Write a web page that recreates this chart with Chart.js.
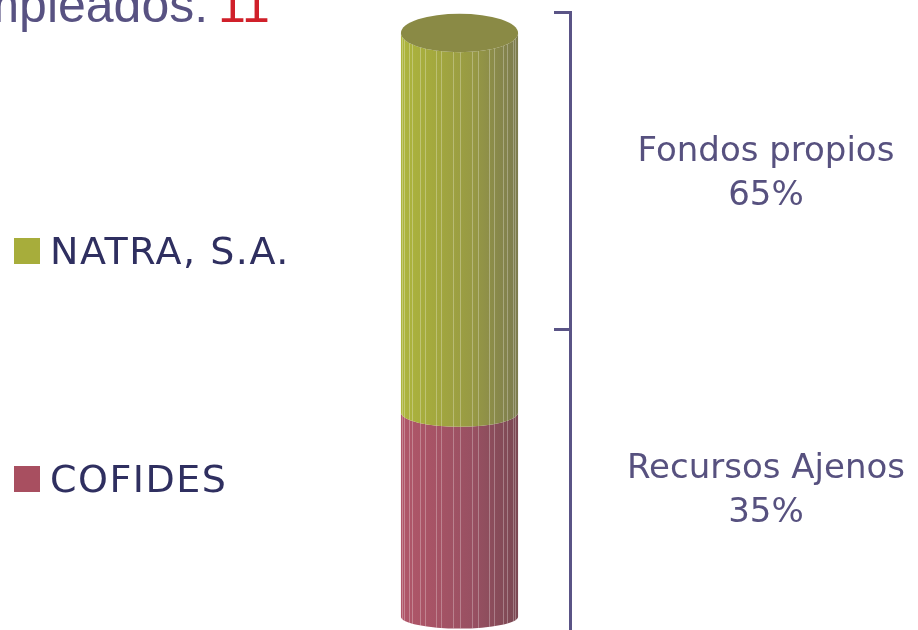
<!DOCTYPE html>
<html><head><meta charset="utf-8">
<script src="https://cdn.jsdelivr.net/npm/chart.js@4"></script>
<style>html,body{margin:0;padding:0;background:#fff;overflow:hidden}
#wrap{position:relative;width:918px;height:660px}</style>
</head><body><div id="wrap"><canvas id="c" width="918" height="660"></canvas></div>
<script>
// ---- data ----
const categories = ['Estructura financiera'];
const seriesNames = ['COFIDES', 'NATRA, S.A.'];
const cofidesValues = [35];
const natraValues = [65];
const sideLabels = [['Fondos propios', '65%'], ['Recursos Ajenos', '35%']];
const titleText = 'Empleados: ';
const titleValue = '11';

// ---- styles ----
const seriesColors = ['#a84f60', '#a7ad3b'];
const bodyGradients = [
  ['#b05669', '#a65365', '#985062', '#7a4852'],
  ['#adb53c', '#a3a83e', '#979944', '#7c7b4f']
];
const capColor = '#8a8a45';

const cylinderPlugin = {
  id: 'cylinder',
  beforeDatasetsDraw(chart) {
    const ctx = chart.ctx;
    const yScale = chart.scales.y;
    const yBottom = yScale.getPixelForValue(0);
    const total = cofidesValues[0] + natraValues[0];
    const yTop = yScale.getPixelForValue(total);
    const ryAt = (rx, py) => rx * (0.2 + 0.13 * (yBottom - py) / (yBottom - yTop));
    chart.data.datasets.forEach((ds, di) => {
      const meta = chart.getDatasetMeta(di);
      meta.data.forEach((el) => {
        const cx = el.x, rx = el.width / 2;
        const top = Math.min(el.y, el.base), base = Math.max(el.y, el.base);
        const left = cx - rx, right = cx + rx;
        const ryT = ryAt(rx, top), ryB = ryAt(rx, base);
        ctx.save();
        ctx.beginPath();
        ctx.moveTo(left, top);
        ctx.ellipse(cx, top, rx, ryT, 0, Math.PI, 0, true);
        ctx.lineTo(right, base);
        ctx.ellipse(cx, base, rx, ryB, 0, 0, Math.PI, false);
        ctx.closePath();
        const g = ctx.createLinearGradient(left, 0, right, 0);
        const st = bodyGradients[di];
        g.addColorStop(0, st[0]); g.addColorStop(0.3, st[1]);
        g.addColorStop(0.62, st[2]); g.addColorStop(1, st[3]);
        ctx.fillStyle = g;
        ctx.fill();
        ctx.clip();
        ctx.strokeStyle = 'rgba(255,255,255,0.28)';
        ctx.lineWidth = 1;
        const N = 30;
        for (let k = 1; k < N; k++) {
          if (k % 3 === 1) continue;
          const xx = Math.round(cx - rx * Math.cos(k * Math.PI / N)) + 0.5;
          ctx.beginPath();
          ctx.moveTo(xx, top - ryT);
          ctx.lineTo(xx, base + ryB);
          ctx.stroke();
        }
        ctx.restore();
        if (di === chart.data.datasets.length - 1) {
          ctx.save();
          ctx.beginPath();
          ctx.ellipse(cx, top, rx, ryT, 0, 0, Math.PI * 2);
          ctx.fillStyle = capColor;
          ctx.fill();
          ctx.restore();
        }
      });
    });
    return false;
  }
};

const sideLegendPlugin = {
  id: 'sideLegend',
  afterDraw(chart) {
    const ctx = chart.ctx;
    const rows = [{ y: 264 }, { y: 492 }];
    const order = chart.data.datasets.map((d, i) => i).reverse();
    ctx.save();
    ctx.font = '38px "DejaVu Sans"';
    ctx.textBaseline = 'alphabetic';
    try { ctx.letterSpacing = '1.5px'; } catch (e) {}
    order.forEach((di, r) => {
      const ds = chart.data.datasets[di];
      const by = rows[r].y;
      ctx.fillStyle = ds.backgroundColor;
      ctx.fillRect(14, by - 26, 26, 26);
      ctx.fillStyle = '#2f2f60';
      ctx.fillText(ds.label, 50, by);
    });
    ctx.restore();
  }
};

const titlePlugin = {
  id: 'splitTitle',
  afterDraw(chart) {
    const ctx = chart.ctx;
    ctx.save();
    ctx.font = '50px "Liberation Sans", Arial';
    ctx.textBaseline = 'alphabetic';
    const x0 = 218, y0 = 22;
    ctx.textAlign = 'right';
    ctx.fillStyle = '#585282';
    ctx.fillText(titleText, x0 + 4, y0);
    ctx.textAlign = 'left';
    ctx.fillStyle = '#d0202a';
    ctx.fillText(titleValue, x0, y0);
    ctx.restore();
  }
};

new Chart(document.getElementById('c'), {
  type: 'bar',
  data: {
    labels: categories,
    datasets: [
      { label: seriesNames[0], data: cofidesValues, backgroundColor: seriesColors[0] },
      { label: seriesNames[1], data: natraValues, backgroundColor: seriesColors[1] }
    ]
  },
  options: {
    responsive: false,
    animation: false,
    events: [],
    layout: { padding: { left: 349, right: 11, top: 12, bottom: 14 } },
    datasets: { bar: { barPercentage: 0.53, categoryPercentage: 1 } },
    plugins: { legend: { display: false }, tooltip: { enabled: false }, title: { display: false } },
    scales: {
      x: { type: 'category', display: false, stacked: true, offset: true },
      y: { type: 'linear', display: false, stacked: true, min: -5, max: 103.6 },
      side: {
        type: 'category', axis: 'y', position: 'right', labels: sideLabels, offset: true,
        afterFit(scale) { scale.width = 337; scale.paddingTop = 0; scale.paddingBottom = 0; },
        grid: { offset: true, drawOnChartArea: false, drawTicks: true, tickLength: -16, tickColor: '#5a5486', tickWidth: 3 },
        border: { display: true, color: '#5a5486', width: 3 },
        ticks: { color: '#57517f', font: { family: 'DejaVu Sans', size: 34, lineHeight: 1.3 }, crossAlign: 'center', padding: 73, labelOffset: 4, autoSkip: false, maxRotation: 0, minRotation: 0 }
      }
    }
  },
  plugins: [cylinderPlugin, sideLegendPlugin, titlePlugin]
});
</script>
</body></html>
